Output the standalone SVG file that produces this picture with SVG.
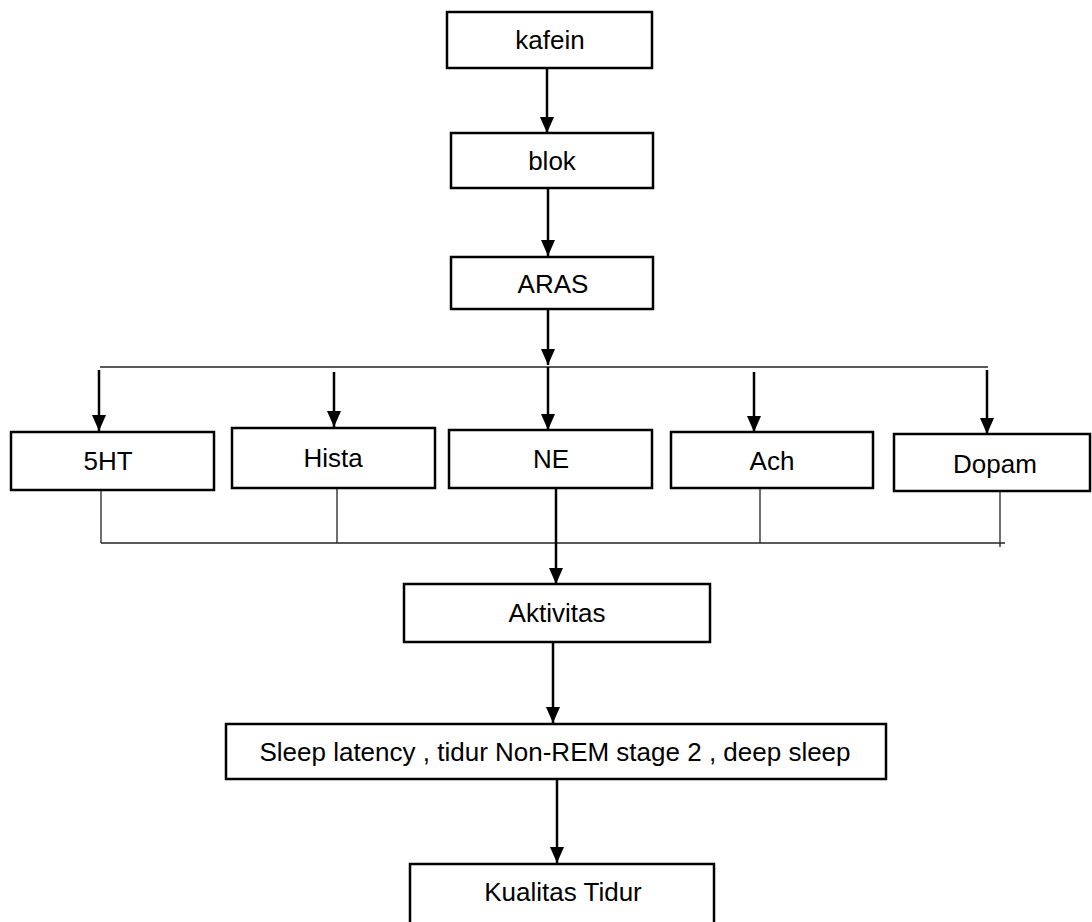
<svg xmlns="http://www.w3.org/2000/svg" width="1092" height="922" viewBox="0 0 1092 922">
<style>
.box{fill:#fff;stroke:#000;stroke-width:2.5}
.lbl{font-family:"Liberation Sans",Arial,sans-serif;font-size:26px;fill:#000;text-anchor:middle}
.arr{stroke:#000;stroke-width:2.5;fill:none;marker-end:url(#ah)}
.thin{stroke:#222;stroke-width:1.3;fill:none}
</style>
<defs>
<marker id="ah" markerUnits="userSpaceOnUse" markerWidth="16" markerHeight="14" refX="16" refY="7" orient="auto" viewBox="0 0 16 14">
<path d="M0,0 L16,7 L0,14 Z" fill="#000"/>
</marker>
</defs>
<rect width="1092" height="922" fill="#fff"/>
<g id="connectors">
<line class="arr" x1="547" y1="68" x2="547" y2="133"/>
<line class="arr" x1="548" y1="188" x2="548" y2="256"/>
<line class="arr" x1="548" y1="309" x2="548" y2="365"/>
<line class="thin" x1="100" y1="367" x2="988" y2="367"/>
<line class="arr" x1="99" y1="370" x2="99" y2="431"/>
<line class="arr" x1="334" y1="372" x2="334" y2="427"/>
<line class="arr" x1="548" y1="367" x2="548" y2="430"/>
<line class="arr" x1="754" y1="372" x2="754" y2="432"/>
<line class="arr" x1="987" y1="370" x2="987" y2="434"/>
<line class="thin" x1="101" y1="490" x2="101" y2="543"/>
<line class="thin" x1="337" y1="488" x2="337" y2="543"/>
<line class="thin" x1="760" y1="488" x2="760" y2="543"/>
<line class="thin" x1="1000" y1="491" x2="1000" y2="547"/>
<line class="thin" x1="101" y1="543" x2="1005" y2="543"/>
<line class="arr" x1="556" y1="488" x2="556" y2="584"/>
<line class="arr" x1="553" y1="642" x2="553" y2="723"/>
<line class="arr" x1="557" y1="779" x2="557" y2="863"/>
</g>
<g id="kafein"><rect class="box" x="447" y="12" width="205" height="56"/><text class="lbl" x="550" y="49">kafein</text></g>
<g id="blok"><rect class="box" x="451" y="133" width="202" height="55"/><text class="lbl" x="552" y="170">blok</text></g>
<g id="aras"><rect class="box" x="451" y="257" width="202" height="52"/><text class="lbl" x="553" y="293">ARAS</text></g>
<g id="n5ht"><rect class="box" x="11" y="432" width="203" height="58"/><text class="lbl" x="108" y="470">5HT</text></g>
<g id="hista"><rect class="box" x="232" y="428" width="203" height="60"/><text class="lbl" x="333" y="467">Hista</text></g>
<g id="ne"><rect class="box" x="449" y="430" width="203" height="58"/><text class="lbl" x="551" y="468">NE</text></g>
<g id="ach"><rect class="box" x="671" y="432" width="202" height="56"/><text class="lbl" x="772" y="470">Ach</text></g>
<g id="dopam"><rect class="box" x="894" y="434" width="196" height="57"/><text class="lbl" x="995" y="473">Dopam</text></g>
<g id="aktivitas"><rect class="box" x="404" y="584" width="306" height="58"/><text class="lbl" x="557" y="622">Aktivitas</text></g>
<g id="sleep"><rect class="box" x="226" y="724" width="660" height="55"/><text class="lbl" x="555" y="761">Sleep latency , tidur Non-REM stage 2 , deep sleep</text></g>
<g id="kualitas"><rect class="box" x="410" y="864" width="304" height="70"/><text class="lbl" x="563" y="901">Kualitas Tidur</text></g>
</svg>
